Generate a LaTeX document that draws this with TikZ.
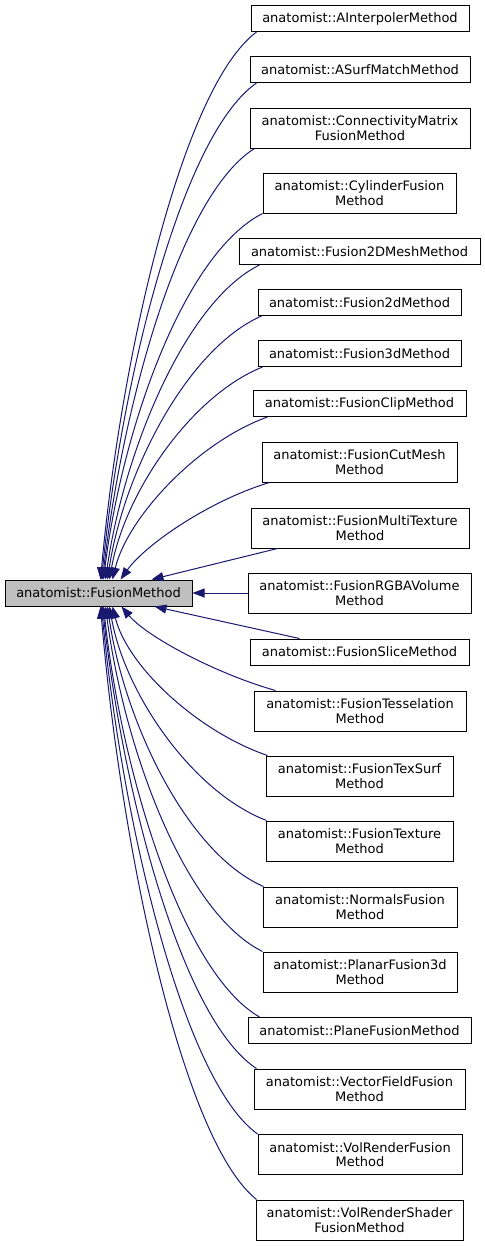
\documentclass[tikz,border=0pt]{standalone}
\usepackage{fontspec}
\setmainfont{DejaVu Sans}
\usetikzlibrary{arrows.meta,calc}
\definecolor{midnight}{HTML}{191970}

\begin{document}
\begin{tikzpicture}[x=0.75pt,y=-0.75pt,
	box/.style={draw=black,line width=0.75pt,fill=white,align=center,inner xsep=2pt,inner ysep=0pt,
		minimum height=26*0.75pt,font=\fontsize{9.75}{10.75}\selectfont},
	tall/.style={minimum height=40*0.75pt},
	wd/.style={minimum width=#1*0.75pt},
	inherit/.style={draw=midnight,line width=0.75pt,-{Triangle[length=9pt,width=6.75pt]}}]
	\useasboundingbox (0,0) rectangle (485,1246);
	\node[box,wd=187,fill=black!25] (fusion) at (98.5,593) {anatomist::FusionMethod};
	\node[box,wd=218] (interp) at (360,18.5) {anatomist::AInterpolerMethod};
	\node[box,wd=220] (surf) at (360,69.5) {anatomist::ASurfMatchMethod};
	\node[box,tall,wd=220] (conn) at (360,128) {anatomist::ConnectivityMatrix\\FusionMethod};
	\node[box,tall,wd=193] (cyl) at (359.5,193) {anatomist::CylinderFusion\\Method};
	\node[box,wd=241] (mesh2d) at (359.5,251.5) {anatomist::Fusion2DMeshMethod};
	\node[box,wd=203] (f2d) at (359.5,302.5) {anatomist::Fusion2dMethod};
	\node[box,wd=203] (f3d) at (359.5,353.5) {anatomist::Fusion3dMethod};
	\node[box,wd=213] (clip) at (359.5,403.5) {anatomist::FusionClipMethod};
	\node[box,tall,wd=195] (cut) at (359.5,462) {anatomist::FusionCutMesh\\Method};
	\node[box,tall,wd=218] (multi) at (360,528) {anatomist::FusionMultiTexture\\Method};
	\node[box,tall,wd=223] (rgba) at (359.5,593) {anatomist::FusionRGBAVolume\\Method};
	\node[box,wd=219] (slice) at (359.5,652) {anatomist::FusionSliceMethod};
	\node[box,tall,wd=212] (tess) at (360,711) {anatomist::FusionTesselation\\Method};
	\node[box,tall,wd=187] (texsurf) at (359.5,776) {anatomist::FusionTexSurf\\Method};
	\node[box,tall,wd=187] (tex) at (359.5,841) {anatomist::FusionTexture\\Method};
	\node[box,tall,wd=194] (normals) at (360,907) {anatomist::NormalsFusion\\Method};
	\node[box,tall,wd=194] (planar) at (360,972) {anatomist::PlanarFusion3d\\Method};
	\node[box,wd=223] (plane) at (359.5,1030.5) {anatomist::PlaneFusionMethod};
	\node[box,tall,wd=211] (vfield) at (359.5,1089) {anatomist::VectorFieldFusion\\Method};
	\node[box,tall,wd=204] (volr) at (360,1154.5) {anatomist::VolRenderFusion\\Method};
	\node[box,tall,wd=207] (vshader) at (359.5,1220) {anatomist::VolRenderShader\\FusionMethod};
	% classes above the base
	\draw[inherit] ($(interp.south west)+(6,0)$) .. controls +(-75,56) and +(20,-220) .. ($(fusion.north west)+(96,0)$);
	\draw[inherit] ($(surf.south west)+(7,0)$) .. controls +(-75,52) and +(20,-199) .. ($(fusion.north west)+(97,0)$);
	\draw[inherit] ($(conn.south west)+(5,0)$) .. controls +(-75,47) and +(20,-173) .. ($(fusion.north west)+(98,0)$);
	\draw[inherit] (cyl.south west) .. controls +(-80,41) and +(18,-147) .. ($(fusion.north west)+(99,0)$);
	\draw[inherit] ($(mesh2d.south west)+(21,0)$) .. controls +(-75,37) and +(18,-126) .. ($(fusion.north west)+(101,0)$);
	\draw[inherit] ($(f2d.south west)+(4,0)$) .. controls +(-75,33) and +(16,-106) .. ($(fusion.north west)+(103,0)$);
	\draw[inherit] ($(f3d.south west)+(5,0)$) .. controls +(-72,29) and +(15,-86) .. ($(fusion.north west)+(105,0)$);
	\draw[inherit] ($(clip.south west)+(15,0)$) .. controls +(-70,25) and +(15,-62) .. ($(fusion.north west)+(108,0)$);
	\draw[inherit] ($(cut.south west)+(8,0)$) .. controls +(-60,18) and +(25,-35) .. ($(fusion.north west)+(116,0)$);
	\draw[inherit] ($(multi.south west)+(27,0)$) -- ($(fusion.north west)+(147,0)$);
	\draw[inherit] (rgba.west) -- (fusion.east);
	% classes below the base
	\draw[inherit] ($(slice.north west)+(50,0)$) -- ($(fusion.south west)+(150,0)$);
	\draw[inherit] ($(tess.north west)+(22,0)$) .. controls +(-60,-17) and +(25,30) .. ($(fusion.south west)+(117,0)$);
	\draw[inherit] ($(texsurf.north west)+(2,0)$) .. controls +(-70,-24) and +(15,60) .. ($(fusion.south west)+(108,0)$);
	\draw[inherit] ($(tex.north west)+(1,0)$) .. controls +(-75,-29) and +(15,86) .. ($(fusion.south west)+(105,0)$);
	\draw[inherit] ($(normals.north west)+(1,0)$) .. controls +(-78,-34) and +(16,112) .. ($(fusion.south west)+(103,0)$);
	\draw[inherit] (planar.north west) .. controls +(-80,-40) and +(18,138) .. ($(fusion.south west)+(101,0)$);
	\draw[inherit] ($(plane.north west)+(12,0)$) .. controls +(-78,-45) and +(18,165) .. ($(fusion.south west)+(99,0)$);
	\draw[inherit] ($(vfield.north west)+(3,0)$) .. controls +(-75,-49) and +(20,185) .. ($(fusion.south west)+(98,0)$);
	\draw[inherit] (volr.north west) .. controls +(-75,-54) and +(20,212) .. ($(fusion.south west)+(97,0)$);
	\draw[inherit] ($(vshader.north west)+(1,0)$) .. controls +(-75,-60) and +(20,238) .. ($(fusion.south west)+(96,0)$);
\end{tikzpicture}
\end{document}
